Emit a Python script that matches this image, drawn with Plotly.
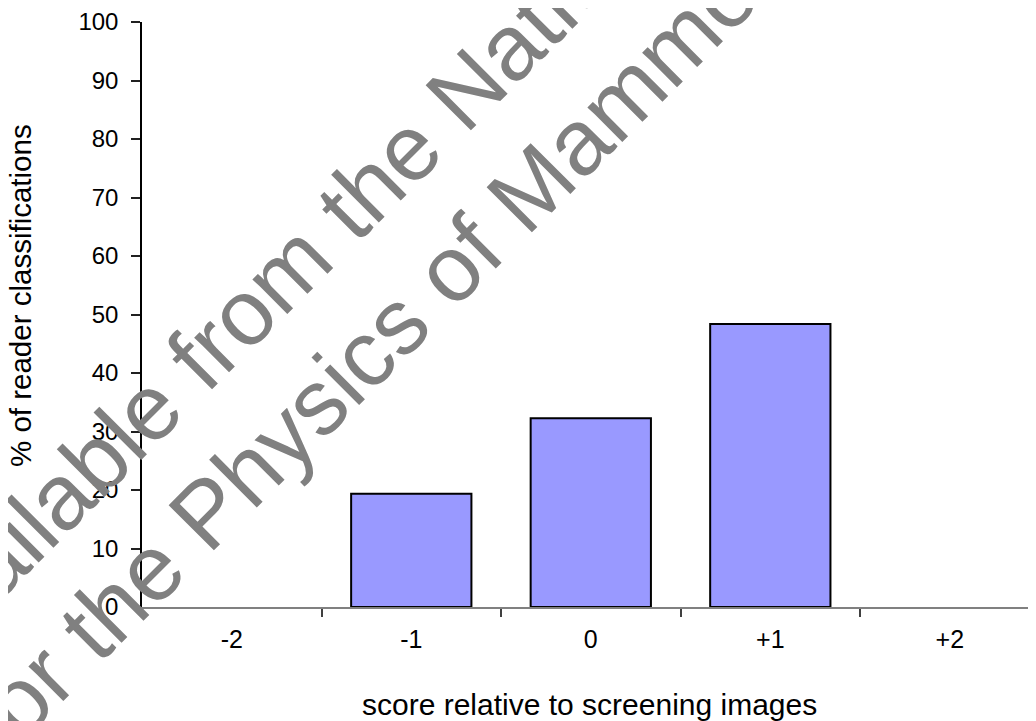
import plotly.graph_objects as go

categories = ["-2", "-1", "0", "+1", "+2"]
values = [0, 19.35, 32.26, 48.39, 0]
y_ticks = list(range(0, 101, 10))

x_title = "score relative to screening images"
y_title = "% of reader classifications"
wm_line1 = "Available from the National"
wm_line2 = "for the Physics of Mammography"

FONT = "Liberation Sans, Arial, sans-serif"

# page body has an 8px margin; size the figure so it ends at the window edge
OFF = 8
W, H = 1036 - OFF, 721 - OFF
L, T, B = 142 - OFF, 22 - OFF, 713 - (607 - OFF)

fig = go.Figure()
fig.add_trace(go.Bar(
    x=categories, y=values, width=0.67,
    marker=dict(color="#9999FF",
                line=dict(color="black", width=[2 if v > 0 else 0 for v in values])),
    showlegend=False, hoverinfo="skip",
))

fig.update_layout(
    width=W, height=H,
    margin=dict(l=L, r=0, t=T, b=B, pad=0),
    paper_bgcolor="white", plot_bgcolor="white",
    font=dict(family=FONT, color="black", size=24),
    xaxis=dict(type="category", categoryorder="array", categoryarray=categories,
               range=[-0.5, 4.48], tickson="boundaries", ticks="outside", ticklen=8,
               tickcolor="#404040", tickwidth=1.5, showline=True, linecolor="#808080",
               linewidth=2, showgrid=False, zeroline=False,
               tickfont=dict(size=25, family=FONT), ticklabelstandoff=9),
    yaxis=dict(range=[0, 100], tickvals=y_ticks, ticks="outside", ticklen=9,
               tickcolor="#202020", tickwidth=1.5, showline=True, linecolor="black",
               linewidth=1.5, showgrid=False, zeroline=False,
               tickfont=dict(size=24, family=FONT), ticklabelstandoff=8),
)

plot_w = W - L
plot_h = H - T - B

def px_to_paper(px, py):
    # px, py are window coordinates
    fx, fy = px - OFF, py - OFF
    return (fx - L) / plot_w, (H - B - fy) / plot_h

ax, ay = px_to_paper(589, 704)
fig.add_annotation(text=x_title, x=ax, y=ay, xref="paper", yref="paper",
                   xanchor="center", yanchor="middle", showarrow=False,
                   font=dict(size=30, family=FONT, color="black"))
ax, ay = px_to_paper(20, 296)
fig.add_annotation(text=y_title, x=ax, y=ay, xref="paper", yref="paper",
                   xanchor="center", yanchor="middle", showarrow=False, textangle=-90,
                   font=dict(size=29.5, family=FONT, color="black"))

for txt, (cx, cy) in [(wm_line1, (292, 264)), (wm_line2, (462, 257))]:
    ax, ay = px_to_paper(cx, cy)
    fig.add_annotation(text=txt, x=ax, y=ay, xref="paper", yref="paper",
                       xanchor="center", yanchor="middle", showarrow=False, textangle=-45,
                       font=dict(size=93, family=FONT, color="rgb(128,128,128)"))

fig.write_html("out.html")
